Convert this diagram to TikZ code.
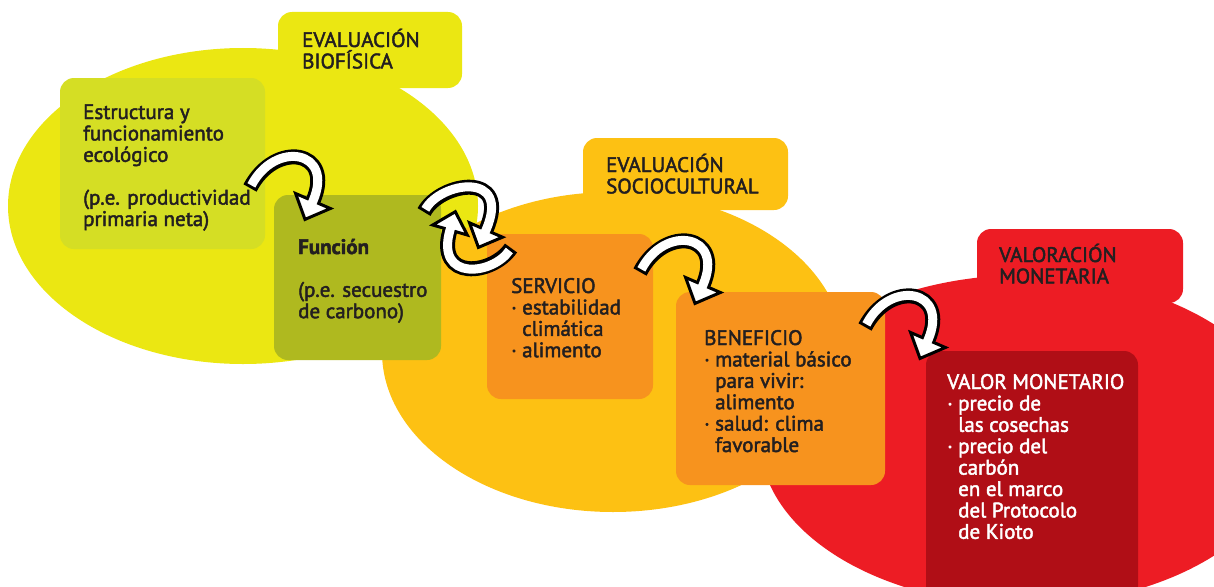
\documentclass[tikz,border=0pt]{standalone}
\usepackage{fontspec}
\setmainfont{PT Sans}
\definecolor{yel}{HTML}{EBE712}
\definecolor{yelbox}{HTML}{D5DE24}
\definecolor{olive}{HTML}{AFB91F}
\definecolor{gold}{HTML}{FDC113}
\definecolor{orng}{HTML}{F7931E}
\definecolor{redd}{HTML}{ED1C24}
\definecolor{dred}{HTML}{B00E16}
\definecolor{tdark}{HTML}{231F20}
\newcommand\bul{\makebox[11pt][l]{·}}
\newcommand\ind{\hspace*{11pt}}
\newcommand\heavyon{\special{pdf:literal direct 2 Tr 0.45 w}}
\newcommand\heavyoff{\special{pdf:literal direct 0 Tr}}
\newcommand\blocktext[1]{\parbox[t]{240pt}{\fontsize{21}{21.4}\selectfont\raggedright\leavevmode\heavyon #1\heavyoff}}
% #1 shaft path, #2 extension point, #3 wing, #4 tip, #5 wing
\newcommand\myarrow[5]{%
  \draw[line width=15pt, black] #1;
  \filldraw[fill=white, draw=black, line width=3pt, line join=miter] #3 -- #4 -- #5 -- cycle;
  \draw[line width=9pt, white, shorten <=3pt] #1 -- #2;
}
\tikzset{
  rbox/.style={rounded corners=14pt, inner sep=0pt, outer sep=0pt},
  txt/.style={anchor=base west, inner sep=0pt, text=tdark},
  wtxt/.style={anchor=base west, inner sep=0pt, text=white},
}
\begin{document}
\begin{tikzpicture}[x=1pt, y=-1pt]
\useasboundingbox (0,0) rectangle (1214,586);
\clip (0,0) rectangle (1214,586);
% ellipse 1 + label
\fill[yel] (243,206) ellipse [x radius=235, y radius=158];
\fill[yel, rbox] (278,12) rectangle (462,88);
\fill[yelbox, rbox] (60,78) rectangle (265,249);
% ellipse 2 + label
\fill[gold] (613,352) ellipse [x radius=231, y radius=160];
\fill[gold, rbox] (583,138) rectangle (788,210);
\fill[olive, rbox] (274,195) rectangle (441,360);
\fill[orng, rbox] (487,234) rectangle (653,399);
% ellipse 3 + label
\fill[redd] (1025,440) ellipse [x radius=265, y radius=165];
\fill[redd, rbox] (977,229) rectangle (1183,303);
\fill[orng, rbox] (676,292) rectangle (885,485);
\fill[dred, rbox] (926,351) rectangle (1138,600);

% texts
\node[txt] (t1) at (302,47) {\blocktext{EVALUACIÓN\\BIOFÍSICA}};
\node[txt] (t2) at (83,119) {\blocktext{Estructura y\\funcionamiento\\ecológico\\[21.4pt](p.e. productividad\\primaria neta)}};
\node[txt] (t3) at (298,254) {\blocktext{\textbf{Función}\\[21.4pt](p.e. secuestro\\de carbono)}};
\node[txt] (t4) at (606,172) {\blocktext{EVALUACIÓN\\SOCIOCULTURAL}};
\node[txt] (t5) at (511,293) {\blocktext{SERVICIO\\\bul estabilidad\\\ind climática\\\bul alimento}};
\node[txt] (t6) at (704,345) {\blocktext{BENEFICIO\\\bul material básico\\\ind para vivir:\\\ind alimento\\\bul salud: clima\\\ind favorable}};
\node[txt] (t7) at (999,262) {\blocktext{VALORACIÓN\\MONETARIA}};
\node[wtxt] (t8) at (947,389) {\blocktext{VALOR MONETARIO\\\bul precio de\\\ind las cosechas\\\bul precio del\\\ind carbón\\\ind en el marco\\\ind del Protocolo\\\ind de Kioto}};

% curved arrows
\begin{scope}[shift={(250,188)}]
\myarrow{(0,0) .. controls (25,-48) and (85,-38) .. (63,13)}{(61,17.6)}{(45.6,5.5)}{(55,31.4)}{(80.4,20.5)}
\end{scope}
\begin{scope}[shift={(640,272)}]
\myarrow{(0,0) .. controls (25,-48) and (85,-38) .. (63,13)}{(61,17.6)}{(45.6,5.5)}{(55,31.4)}{(80.4,20.5)}
\end{scope}
\begin{scope}[shift={(865,327)}]
\myarrow{(0,0) .. controls (25,-48) and (85,-38) .. (63,13)}{(61,17.6)}{(45.6,5.5)}{(55,31.4)}{(80.4,20.5)}
\end{scope}
% cycle arrows
\myarrow{(424,212) .. controls (440,182) and (512,170) .. (486,230)}{(484,234.6)}{(469.5,222.8)}{(478.4,247.4)}{(502.5,237.2)}
\myarrow{(511,248) .. controls (493,275) and (435,282) .. (450,230)}{(451.4,225.2)}{(467.3,235)}{(455.3,211.7)}{(432.7,225)}
\end{tikzpicture}
\end{document}
